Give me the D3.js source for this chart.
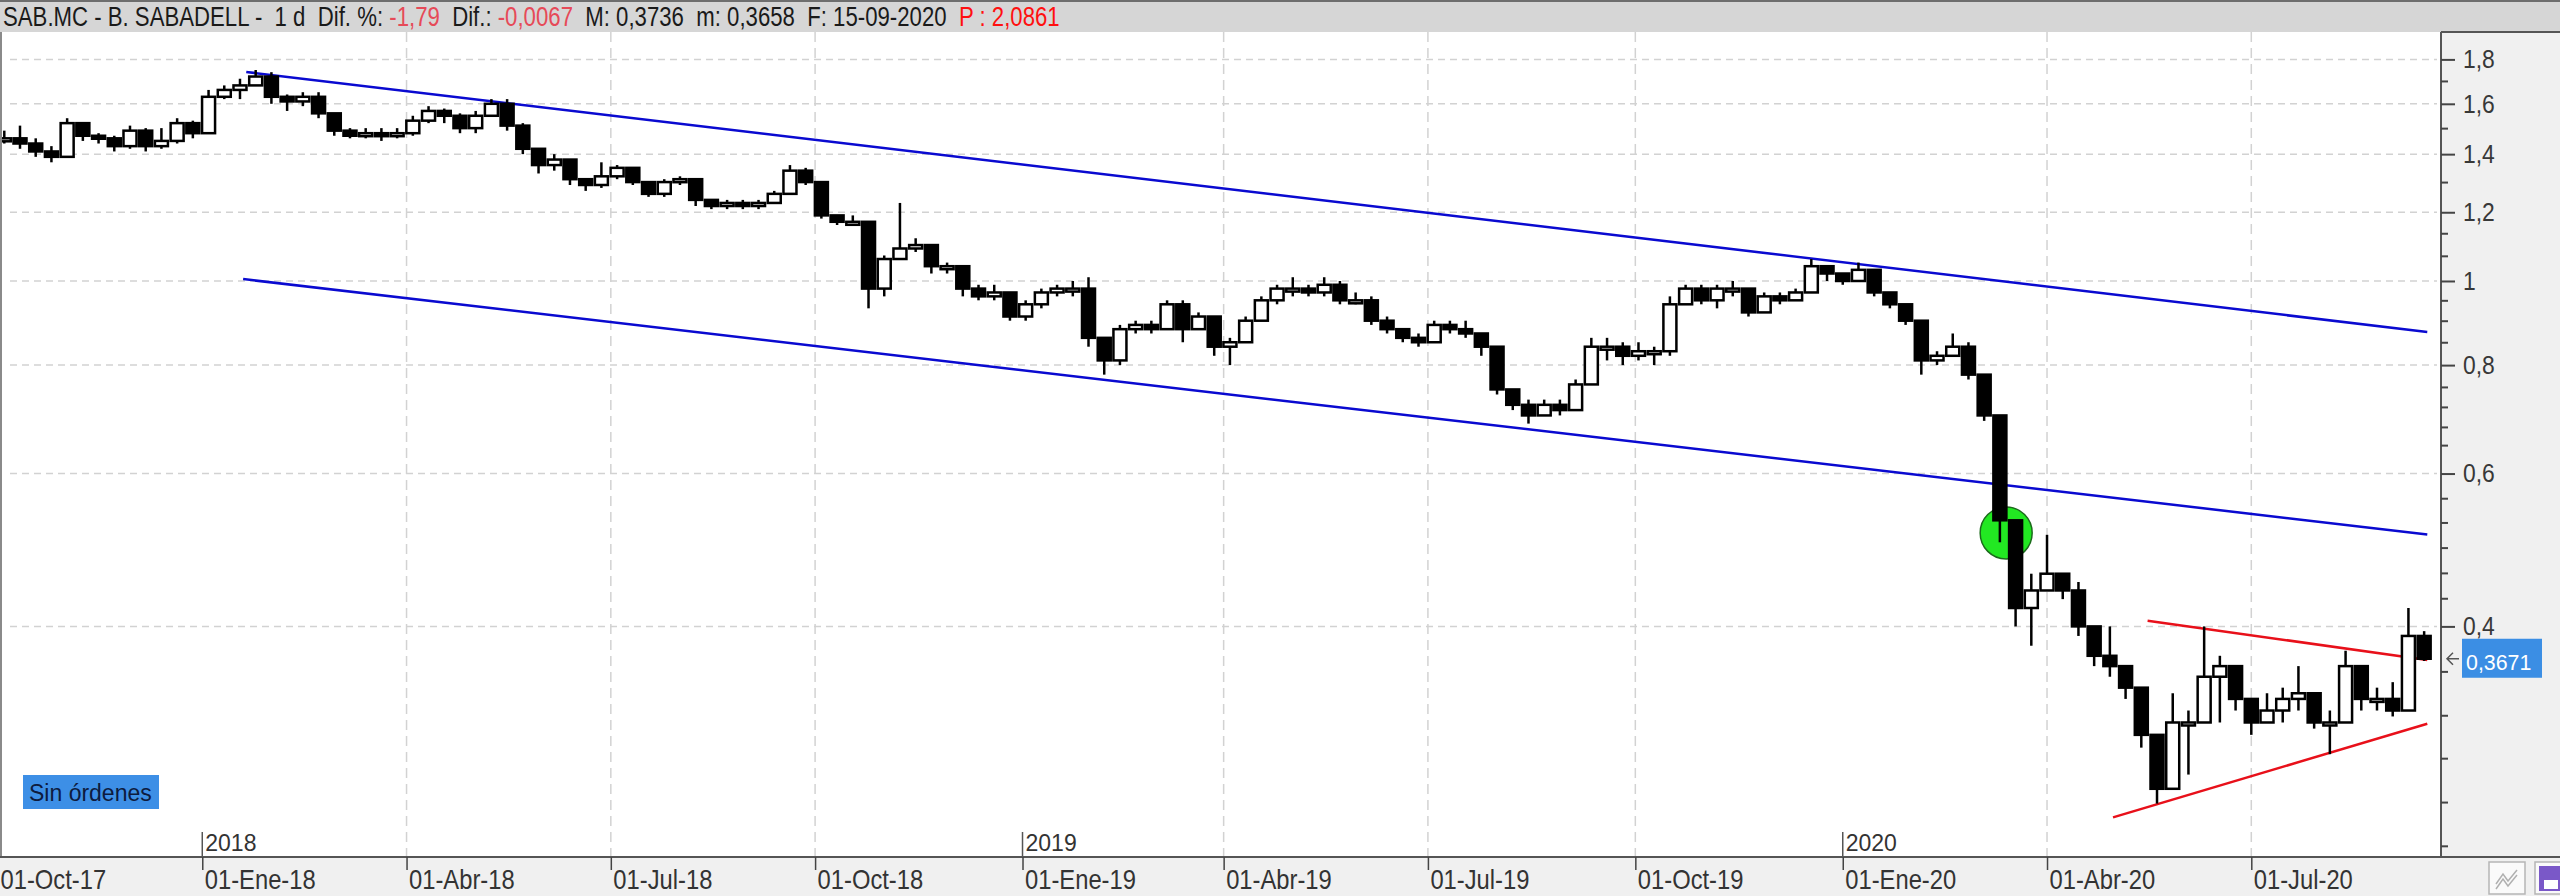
<!DOCTYPE html>
<html>
<head>
<meta charset="utf-8">
<script src="https://cdn.jsdelivr.net/npm/d3@7"></script>
<style>
  html, body { margin: 0; padding: 0; background: #fff; }
  svg { display: block; font-family: "Liberation Sans", Arial, sans-serif; }
</style>
</head>
<body>
<svg id="chart" width="2560" height="896"></svg>
<script>
// SAB.MC weekly candles, one per week starting Monday 2017-10-02 (last week is partial)
const closes = [1.46, 1.44, 1.41, 1.39, 1.52, 1.47, 1.46, 1.43, 1.49, 1.43, 1.45, 1.52, 1.48, 1.63, 1.66, 1.68, 1.72, 1.63, 1.61, 1.63,
  1.56, 1.49, 1.47, 1.48, 1.47, 1.48, 1.53, 1.57, 1.55, 1.50, 1.55, 1.60, 1.51, 1.42, 1.36, 1.38, 1.31, 1.29, 1.32, 1.35,
  1.30, 1.26, 1.30, 1.31, 1.24, 1.22, 1.23, 1.22, 1.23, 1.26, 1.34, 1.30, 1.19, 1.17, 1.17, 0.98, 1.06, 1.09, 1.10, 1.04,
  1.04, 0.98, 0.96, 0.97, 0.91, 0.94, 0.97, 0.98, 0.98, 0.86, 0.81, 0.88, 0.89, 0.88, 0.94, 0.88, 0.91, 0.84, 0.85, 0.90,
  0.95, 0.98, 0.98, 0.97, 0.99, 0.95, 0.95, 0.90, 0.88, 0.86, 0.85, 0.89, 0.88, 0.87, 0.84, 0.75, 0.72, 0.70, 0.72, 0.71,
  0.76, 0.84, 0.84, 0.82, 0.83, 0.83, 0.94, 0.98, 0.95, 0.98, 0.98, 0.92, 0.96, 0.95, 0.97, 1.04, 1.02, 1.00, 1.03, 0.97,
  0.94, 0.90, 0.81, 0.82, 0.84, 0.78, 0.70, 0.53, 0.42, 0.44, 0.46, 0.44, 0.40, 0.37, 0.36, 0.34, 0.30, 0.26, 0.31, 0.31,
  0.35, 0.36, 0.33, 0.31, 0.32, 0.33, 0.335, 0.31, 0.31, 0.36, 0.33, 0.33, 0.32, 0.39, 0.3671];
const highs = [1.49, 1.51, 1.46, 1.43, 1.54, 1.52, 1.48, 1.47, 1.51, 1.50, 1.50, 1.54, 1.53, 1.66, 1.68, 1.71, 1.75, 1.74, 1.64, 1.65,
  1.65, 1.55, 1.50, 1.50, 1.50, 1.50, 1.55, 1.59, 1.58, 1.56, 1.57, 1.62, 1.62, 1.52, 1.40, 1.40, 1.38, 1.31, 1.37, 1.36,
  1.34, 1.30, 1.31, 1.32, 1.31, 1.24, 1.24, 1.24, 1.24, 1.27, 1.36, 1.35, 1.30, 1.19, 1.19, 1.13, 1.07, 1.23, 1.12, 1.09,
  1.05, 1.04, 0.99, 0.99, 0.96, 0.95, 0.98, 0.99, 1.00, 1.01, 0.85, 0.89, 0.90, 0.90, 0.95, 0.95, 0.92, 0.90, 0.86, 0.91,
  0.96, 0.99, 1.01, 0.99, 1.01, 1.00, 0.97, 0.96, 0.91, 0.88, 0.87, 0.90, 0.90, 0.90, 0.87, 0.83, 0.75, 0.73, 0.73, 0.73,
  0.77, 0.86, 0.86, 0.85, 0.85, 0.84, 0.96, 0.99, 0.99, 0.99, 1.00, 0.98, 0.97, 0.97, 0.98, 1.06, 1.04, 1.02, 1.05, 1.03,
  0.97, 0.93, 0.86, 0.83, 0.87, 0.85, 0.78, 0.68, 0.51, 0.46, 0.51, 0.46, 0.45, 0.40, 0.40, 0.36, 0.33, 0.30, 0.335, 0.32,
  0.40, 0.37, 0.35, 0.33, 0.335, 0.34, 0.36, 0.33, 0.32, 0.375, 0.36, 0.34, 0.345, 0.42, 0.395];
const lows = [1.44, 1.42, 1.39, 1.37, 1.39, 1.45, 1.44, 1.41, 1.42, 1.41, 1.42, 1.44, 1.46, 1.48, 1.62, 1.62, 1.68, 1.60, 1.57, 1.59,
  1.54, 1.47, 1.46, 1.46, 1.45, 1.46, 1.47, 1.52, 1.52, 1.48, 1.48, 1.55, 1.49, 1.40, 1.33, 1.34, 1.29, 1.27, 1.28, 1.31,
  1.29, 1.25, 1.25, 1.29, 1.22, 1.21, 1.21, 1.21, 1.21, 1.23, 1.26, 1.29, 1.18, 1.16, 1.16, 0.93, 0.96, 1.06, 1.08, 1.02,
  1.02, 0.96, 0.95, 0.95, 0.90, 0.90, 0.93, 0.96, 0.96, 0.84, 0.78, 0.80, 0.87, 0.87, 0.88, 0.85, 0.88, 0.82, 0.80, 0.87,
  0.90, 0.94, 0.96, 0.96, 0.96, 0.94, 0.94, 0.89, 0.87, 0.85, 0.84, 0.85, 0.87, 0.86, 0.82, 0.74, 0.71, 0.685, 0.70, 0.70,
  0.71, 0.76, 0.81, 0.80, 0.81, 0.80, 0.82, 0.94, 0.94, 0.93, 0.96, 0.91, 0.92, 0.94, 0.95, 0.97, 1.00, 0.99, 1.00, 0.96,
  0.93, 0.89, 0.78, 0.80, 0.82, 0.77, 0.69, 0.50, 0.40, 0.38, 0.44, 0.43, 0.39, 0.36, 0.35, 0.33, 0.29, 0.25, 0.26, 0.27,
  0.32, 0.31, 0.32, 0.30, 0.31, 0.31, 0.32, 0.305, 0.285, 0.31, 0.32, 0.32, 0.315, 0.32, 0.365];
const firstOpen = 1.45;
const lastPrice = 0.3671;

const priceTicks = [0.4, 0.6, 0.8, 1, 1.2, 1.4, 1.6, 1.8];
const minorTicks = [1.7, 1.5, 1.3, 1.135, 1.069, 0.95, 0.9, 0.85, 0.755, 0.716, 0.679, 0.647,
  0.562, 0.527, 0.493, 0.461, 0.431, 0.355, 0.316, 0.282, 0.251, 0.2235];
const quarterDates = ["2017-10-01", "2018-01-01", "2018-04-01", "2018-07-01", "2018-10-01", "2019-01-01",
  "2019-04-01", "2019-07-01", "2019-10-01", "2020-01-01", "2020-04-01", "2020-07-01"];
const quarterLabels = ["01-Oct-17", "01-Ene-18", "01-Abr-18", "01-Jul-18", "01-Oct-18", "01-Ene-19",
  "01-Abr-19", "01-Jul-19", "01-Oct-19", "01-Ene-20", "01-Abr-20", "01-Jul-20"];
const yearDates = ["2018-01-01", "2019-01-01", "2020-01-01"];
const yearLabels = ["2018", "2019", "2020"];

// drawn trend lines: [date, price] endpoints
const channelUpper = [["2018-01-19", 1.741], ["2020-09-17", 0.8735]];
const channelLower = [["2018-01-18", 1.005], ["2020-09-17", 0.5105]];
const triangleUpper = [["2020-05-15", 0.406], ["2020-09-17", 0.366]];
const triangleLower = [["2020-04-30", 0.241], ["2020-09-17", 0.309]];
const signalPoint = ["2020-03-13", 0.5125];

const headerParts = [
  ["SAB.MC - B. SABADELL -  1 d  Dif. %: ", "#1a1a1a"],
  ["-1,79", "#e64a58"],
  ["  Dif.: ", "#1a1a1a"],
  ["-0,0067", "#e64a58"],
  ["  M: 0,3736  m: 0,3658  F: 15-09-2020  ", "#1a1a1a"],
  ["P : 2,0861", "#ff1010"],
];

const W = 2560, H = 896;
const plot = { left: 2, right: 2441, top: 32, bottom: 857 };
const svg = d3.select("#chart");
const parse = d3.timeParse("%Y-%m-%d");

// trading-day axis (weekdays)
const days = d3.timeDay.range(new Date(2017, 9, 2), new Date(2020, 8, 19)).filter((d) => d.getDay() % 6 !== 0);
const dayIndex = (s) => d3.bisectLeft(days, parse(s));
const x = d3.scaleLinear().domain([0, 771]).range([-2, 2421]);
const y = d3.scaleLog().domain([0.4, 1.8]).range([626.4, 59.4]);
const comma = (v) => String(v).replace(".", ",");

// backgrounds
svg.append("rect").attr("width", W).attr("height", H).attr("fill", "#fff");
svg.append("rect").attr("width", W).attr("height", plot.top).attr("fill", "#d6d6d6");
svg.append("rect").attr("width", W).attr("height", 2).attr("fill", "#6e6e6e");
svg.append("rect").attr("x", plot.right).attr("y", plot.top).attr("width", W - plot.right)
  .attr("height", plot.bottom - plot.top).attr("fill", "#f0f0f0");
svg.append("rect").attr("y", plot.bottom).attr("width", W).attr("height", H - plot.bottom).attr("fill", "#f0f0f0");

// grid
const grid = svg.append("g").attr("stroke", "#d2d2d2").attr("stroke-width", 1.5);
grid.selectAll("line.v").data(quarterDates.filter((d) => !d.endsWith("01-01"))).join("line")
  .attr("class", "v").attr("x1", (d) => x(dayIndex(d))).attr("x2", (d) => x(dayIndex(d)))
  .attr("y1", plot.top).attr("y2", plot.bottom).attr("stroke-dasharray", "10,6");
grid.selectAll("line.h").data(priceTicks).join("line")
  .attr("class", "h").attr("x1", 10).attr("x2", plot.right - 4)
  .attr("y1", (d) => y(d)).attr("y2", (d) => y(d)).attr("stroke-dasharray", "7,5");

// year markers
const years = svg.append("g").selectAll("g").data(yearDates).join("g")
  .attr("transform", (d) => `translate(${x(dayIndex(d))},0)`);
years.append("line").attr("y1", 832).attr("y2", plot.bottom).attr("stroke", "#555").attr("stroke-width", 1.5);
years.append("text").attr("x", 3).attr("y", 851).attr("font-size", 23).attr("fill", "#333")
  .text((d, i) => yearLabels[i]);

// trend lines
const line = d3.line().x((d) => x(dayIndex(d[0]))).y((d) => y(d[1]));
svg.append("g").attr("fill", "none").attr("stroke-width", 2.5).selectAll("path")
  .data([[channelUpper, "#0a0ad0"], [channelLower, "#0a0ad0"], [triangleUpper, "#e8101a"], [triangleLower, "#e8101a"]])
  .join("path").attr("d", (d) => line(d[0])).attr("stroke", (d) => d[1]);

// signal marker
svg.append("circle").attr("cx", x(dayIndex(signalPoint[0]))).attr("cy", y(signalPoint[1])).attr("r", 26)
  .attr("fill", "#22e822").attr("stroke", "#1b6b1b").attr("stroke-width", 1.5);

// candles
const candles = closes.map((c, k) => ({
  i: 5 * k + 2, open: k === 0 ? firstOpen : closes[k - 1], close: c, high: highs[k], low: lows[k],
}));
const cg = svg.append("g").selectAll("g").data(candles).join("g")
  .attr("transform", (d) => `translate(${x(d.i)},0)`);
cg.append("line").attr("stroke", "#000").attr("stroke-width", 2.5)
  .attr("y1", (d) => y(Math.max(d.high, d.open, d.close))).attr("y2", (d) => y(Math.min(d.low, d.open, d.close)));
cg.append("rect").attr("x", -6.5).attr("width", 13)
  .attr("y", (d) => y(Math.max(d.open, d.close)))
  .attr("height", (d) => Math.max(3, Math.abs(y(d.open) - y(d.close))))
  .attr("fill", (d) => (d.close >= d.open ? "#fff" : "#000"))
  .attr("stroke", "#000").attr("stroke-width", 2.5);

// frame
svg.append("line").attr("x1", 1).attr("x2", 1).attr("y1", plot.top).attr("y2", plot.bottom)
  .attr("stroke", "#8a8a8a").attr("stroke-width", 2);
svg.append("line").attr("x1", plot.right).attr("x2", plot.right).attr("y1", plot.top).attr("y2", plot.bottom)
  .attr("stroke", "#555").attr("stroke-width", 2);
svg.append("line").attr("x1", plot.right).attr("x2", W).attr("y1", plot.top).attr("y2", plot.top)
  .attr("stroke", "#555").attr("stroke-width", 2);
svg.append("line").attr("x1", 0).attr("x2", W).attr("y1", plot.bottom).attr("y2", plot.bottom)
  .attr("stroke", "#555").attr("stroke-width", 2);

// y axis
const yAxis = svg.append("g").attr("transform", `translate(${plot.right},0)`)
  .call(d3.axisRight(y).tickValues(priceTicks).tickSize(14).tickPadding(8).tickFormat(comma));
svg.append("g").attr("transform", `translate(${plot.right},0)`)
  .call(d3.axisRight(y).tickValues(minorTicks).tickSize(7).tickFormat(""))
  .call((g) => g.select(".domain").remove())
  .call((g) => g.selectAll("line").attr("stroke", "#444").attr("stroke-width", 2));
yAxis.select(".domain").remove();
yAxis.selectAll("line").attr("stroke", "#444").attr("stroke-width", 2);
yAxis.selectAll("text").attr("font-size", 26).attr("fill", "#383838").attr("font-family", "Liberation Sans, Arial")
  .attr("x", 22 / 0.88).attr("transform", "scale(0.88,1)");

// x axis
const xAxis = svg.append("g").attr("transform", `translate(0,${plot.bottom})`)
  .call(d3.axisBottom(x).tickValues(quarterDates.map(dayIndex)).tickSize(13)
    .tickFormat((d, i) => quarterLabels[i]));
xAxis.select(".domain").remove();
xAxis.selectAll("line").attr("stroke", "#444").attr("stroke-width", 1.5);
xAxis.selectAll("text").attr("font-size", 27).attr("fill", "#333").attr("font-family", "Liberation Sans, Arial")
  .attr("text-anchor", "start").attr("dy", null).attr("y", 32).attr("x", 2 / 0.88).attr("transform", "scale(0.88,1)");

// last price tag
const ly = y(lastPrice);
svg.append("rect").attr("x", 2462).attr("y", ly - 20).attr("width", 80).attr("height", 39).attr("fill", "#3b8ee4");
svg.append("text").attr("transform", `translate(2466,${ly + 11}) scale(0.93,1)`).attr("font-size", 23)
  .attr("fill", "#fff").text(comma(lastPrice));
svg.append("path").attr("d", `M2459,${ly}H2447M2453,${ly - 6}L2447,${ly}L2453,${ly + 6}`)
  .attr("fill", "none").attr("stroke", "#555").attr("stroke-width", 1.5);

// orders label
svg.append("rect").attr("x", 23).attr("y", 775).attr("width", 136).attr("height", 34).attr("fill", "#3d8fe6");
svg.append("text").attr("x", 29).attr("y", 801).attr("font-size", 23).attr("fill", "#0d1b3e").text("Sin órdenes");

// toolbar icons
svg.append("rect").attr("x", 2489).attr("y", 862).attr("width", 36).attr("height", 32)
  .attr("fill", "#fafafa").attr("stroke", "#b5b5b5").attr("stroke-width", 1.5);
svg.append("path").attr("d", "M2496,884L2503,874L2508,881L2517,870M2496,889L2503,879L2508,886L2517,875")
  .attr("fill", "none").attr("stroke", "#b0b0b0").attr("stroke-width", 1.5);
svg.append("rect").attr("x", 2535).attr("y", 862).attr("width", 30).attr("height", 32)
  .attr("fill", "#fafafa").attr("stroke", "#b5b5b5").attr("stroke-width", 1.5);
svg.append("rect").attr("x", 2539).attr("y", 866).attr("width", 24).attr("height", 25).attr("fill", "#7a58c8");
svg.append("rect").attr("x", 2544).attr("y", 880).attr("width", 14).attr("height", 9).attr("fill", "#fff");

// header
const header = svg.append("text").attr("font-size", 27).style("white-space", "pre");
header.selectAll("tspan").data(headerParts).join("tspan").attr("fill", (d) => d[1]).text((d) => d[0]);
const natural = header.node().getComputedTextLength();
header.attr("transform", `translate(3,26) scale(${1057 / natural},1)`);
</script>
</body>
</html>
